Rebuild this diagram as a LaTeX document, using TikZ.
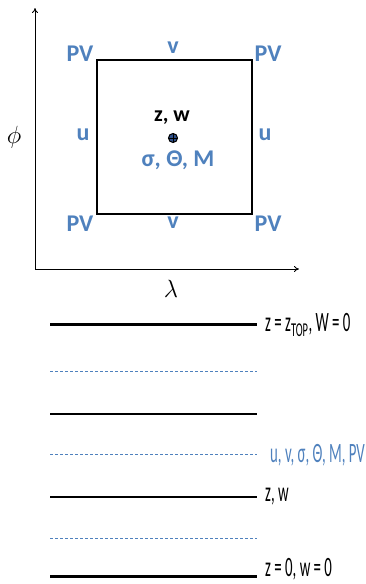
\documentclass[tikz,border=0pt]{standalone}
\usepackage{fontspec}
\setmainfont{Carlito}
\newfontfamily\narrowfont[FakeStretch=0.53]{Carlito}
\usetikzlibrary{arrows.meta}
\definecolor{offblue}{HTML}{4F81BD}
\definecolor{navy}{HTML}{2E4F8A}
\tikzset{
  axis/.style={line width=0.9pt,-{To[length=5pt,width=6pt]}},
  cellbox/.style={draw=black,line width=1.8pt},
  bluelab/.style={text=offblue,font=\fontsize{24}{26}\selectfont\bfseries,inner sep=0pt},
  blacklab/.style={text=black,font=\fontsize{22}{24}\selectfont\bfseries,inner sep=0pt},
  mathlab/.style={font=\fontsize{25}{27}\selectfont,inner sep=0pt},
  thickline/.style={line width=3pt},
  thinline/.style={line width=1.4pt},
  dashline/.style={draw=offblue,line width=1pt,dash pattern=on 3pt off 2pt},
  levlab/.style={anchor=west,inner sep=0pt,font=\narrowfont\fontsize{28}{30}\selectfont},
}
\begin{document}
\begin{tikzpicture}[x=1pt,y=-1pt]
\useasboundingbox (0,0) rectangle (365,584);
% axes
\coordinate (origin) at (35,269);
\coordinate (ytip) at (35,8);
\coordinate (xtip) at (299,269);
\draw[axis] (origin) -- (ytip);
\draw[axis] (origin) -- (xtip);
\node[mathlab] (phi) at (14,137) {$\phi$};
\node[mathlab] (lam) at (171,289) {$\lambda$};
% cell
\node[cellbox,minimum width=155pt,minimum height=154pt,inner sep=0pt] (cell) at (174.5,137) {};
\node[bluelab] (pvtl) at (80,54) {PV};
\node[bluelab] (pvtr) at (268,54) {PV};
\node[bluelab] (pvbl) at (80,224) {PV};
\node[bluelab] (pvbr) at (268,224) {PV};
\node[bluelab] (vt) at (173,48) {v};
\node[bluelab] (vb) at (173,223) {v};
\node[bluelab] (ul) at (83,135) {u};
\node[bluelab] (ur) at (265,135) {u};
\node[blacklab] (zw) at (172,118) {z, w};
\node[circle,draw=black,line width=1pt,fill=navy,minimum size=9pt,inner sep=0pt] (cen) at (173,138) {};
\draw[black,line width=0.9pt] (cen.north) -- (cen.south) (cen.west) -- (cen.east);
\node[bluelab] (sig) at (178,160) {σ, Θ, M};
% levels
\coordinate (a1) at (50,324); \coordinate (b1) at (257,324);
\coordinate (a2) at (50,371); \coordinate (b2) at (257,371);
\coordinate (a3) at (50,414); \coordinate (b3) at (257,414);
\coordinate (a4) at (50,454); \coordinate (b4) at (257,454);
\coordinate (a5) at (50,497); \coordinate (b5) at (257,497);
\coordinate (a6) at (50,538); \coordinate (b6) at (257,538);
\coordinate (a7) at (50,576); \coordinate (b7) at (257,576);
\draw[thickline] (a1) -- (b1);
\draw[dashline] (a2) -- (b2);
\draw[thinline] (a3) -- (b3);
\draw[dashline] (a4) -- (b4);
\draw[thinline] (a5) -- (b5);
\draw[dashline] (a6) -- (b6);
\draw[thickline] (a7) -- (b7);
\node[levlab] (l1) at (265,325) {z = z\textsubscript{TOP}, W = 0};
\node[levlab,text=offblue] (l4) at (270,455) {u, v, σ, Θ, M, PV};
\node[levlab] (l5) at (265,497) {z, w};
\node[levlab] (l7) at (265,569) {z = 0, w = 0};
\end{tikzpicture}
\end{document}
